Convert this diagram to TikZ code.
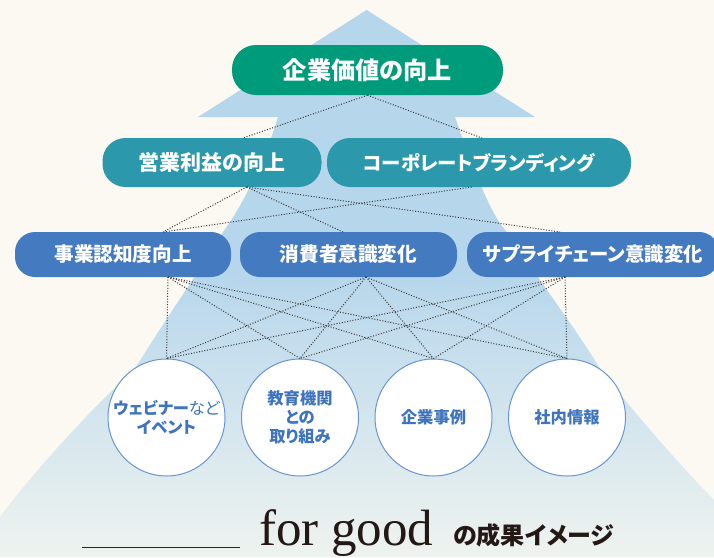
\documentclass[tikz,border=0pt]{standalone}
\usepackage{fontspec}
\newfontfamily\jp[RawFeature=+palt]{Noto Sans CJK JP}
\newfontfamily\jpplain{Noto Sans CJK JP}
\setmainfont{Liberation Serif}
\definecolor{bgc}{HTML}{FCF9F2}
\definecolor{arrc}{HTML}{B6D6EC}
\definecolor{arrbot}{HTML}{EFF3EF}
\definecolor{topgreen}{HTML}{009B7B}
\definecolor{tealc}{HTML}{2B98AC}
\definecolor{bluec}{HTML}{437AC0}
\definecolor{circb}{HTML}{6A95CF}
\definecolor{circt}{HTML}{3E74BD}
\definecolor{darkt}{HTML}{231815}
\tikzset{
  pillbox/.style={rectangle, inner sep=0pt, text=white, font=\jp\bfseries},
  circbox/.style={circle, draw=circb, line width=1pt, fill=white, minimum size=117pt, inner sep=0pt, text=circt, align=center, font=\jp\bfseries\fontsize{16.3}{19}\selectfont},
  dotline/.style={draw=black!78, line width=1pt, dash pattern=on 1pt off 1.7pt}
}
\begin{document}
\begin{tikzpicture}[x=1pt, y=-1pt]
\useasboundingbox (0,0) rectangle (714,557);
\fill[bgc] (0,0) rectangle (714,557);
% big arrow
\begin{scope}
\clip (366.6,10) -- (535,117) -- (455,117)
  .. controls (470,160) and (490,215) .. (507,232)
  .. controls (535,275) and (570,320) .. (601,370)
  .. controls (640,420) and (680,465) .. (714,500)
  -- (714,557) -- (0,557) -- (0,517)
  .. controls (35,470) and (90,410) .. (134,370)
  .. controls (165,320) and (200,270) .. (223,232)
  .. controls (243,205) and (265,160) .. (278,117)
  -- (198,117) -- cycle;
\fill[arrc] (0,0) rectangle (714,270);
\shade[top color=arrc, bottom color=arrbot] (0,269) rectangle (714,557);
\end{scope}
% connection points
\coordinate (t2a) at (243,138);
\coordinate (t2b) at (482,138);
\coordinate (b2a) at (246.7,187);
\coordinate (b2b) at (471.7,187);
\coordinate (t3a) at (163,232);
\coordinate (t3b) at (343,232);
\coordinate (t3c) at (560,232);
\coordinate (b3a) at (168,277);
\coordinate (b3b) at (366,277);
\coordinate (b3c) at (565,277);
% circles
\node[circbox] (c1) at (166.5,417.5) {ウェビナー{\mdseries など}\\イベント};
\node[circbox] (c2) at (300,417.5) {教育機関\\との\\取り組み};
\node[circbox] (c3) at (433.5,417.5) {企業事例};
\node[circbox] (c4) at (567,417.5) {社内情報};
% top node
\node[pillbox, fill=topgreen, minimum width=271pt, minimum height=50pt, rounded corners=24pt, font=\jp\bfseries\fontsize{24.2}{24}\selectfont] (top) at (367.5,70) {企業価値の向上};
% row 2
\node[pillbox, fill=tealc, minimum width=219pt, minimum height=49pt, rounded corners=23pt, font=\jp\bfseries\fontsize{21}{21}\selectfont] (r2a) at (212,162.5) {営業利益の向上};
\node[pillbox, fill=tealc, minimum width=304pt, minimum height=49pt, rounded corners=23pt, font=\jp\bfseries\fontsize{19.4}{19}\selectfont] (r2b) at (479,162.5) {コーポレートブランディング};
% row 3
\node[pillbox, fill=bluec, minimum width=216pt, minimum height=45pt, rounded corners=20pt, font=\jp\bfseries\fontsize{19.6}{19}\selectfont] (r3a) at (123,254.5) {事業認知度向上};
\node[pillbox, fill=bluec, minimum width=217pt, minimum height=45pt, rounded corners=20pt, font=\jp\bfseries\fontsize{19.6}{19}\selectfont] (r3b) at (348.5,254.5) {消費者意識変化};
\node[pillbox, fill=bluec, minimum width=252pt, minimum height=45pt, rounded corners=20pt, font=\jp\bfseries\fontsize{19.4}{19}\selectfont] (r3c) at (593,254.5) {サプライチェーン意識変化};
% dotted connectors
\draw[dotline] (top.south) -- (t2a);
\draw[dotline] (top.south) -- (t2b);
\draw[dotline] (b2a) -- (t3a);
\draw[dotline] (b2a) -- (t3b);
\draw[dotline] (b2a) -- (t3c);
\draw[dotline] (b2b) -- (t3a);
\foreach \s in {b3a,b3b,b3c}{
  \foreach \c in {c1,c2,c3,c4}{
    \draw[dotline] (\s) -- (\c.north);
  }
}
% bottom caption
\draw[black!85, line width=0.9pt] (82,547) -- (240,547);
\node[anchor=base west, inner sep=0pt, text=darkt, font=\fontsize{51}{51}\selectfont] (fg) at (259,545) {for good};
\node[anchor=base west, inner sep=0pt, text=darkt, font=\jp\bfseries\fontsize{24}{24}\selectfont] (cap) at (453,544) {の成果イメージ};
\end{tikzpicture}
\end{document}
